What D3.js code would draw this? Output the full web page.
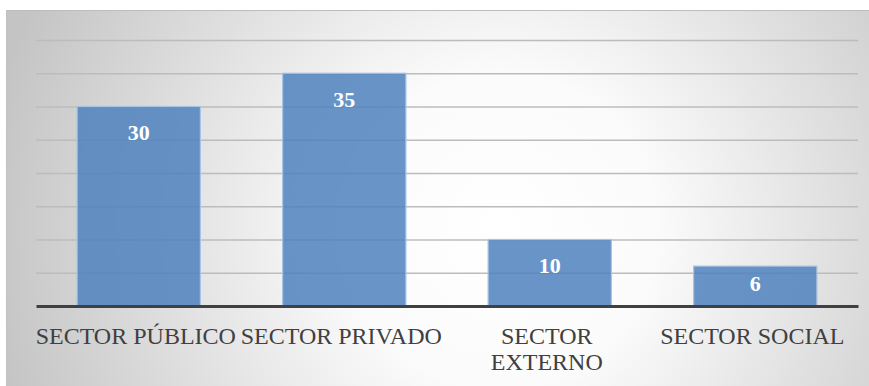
<!DOCTYPE html>
<html>
<head>
<meta charset="utf-8">
<script src="https://cdn.jsdelivr.net/npm/d3@7"></script>
<style>
  html, body { margin: 0; padding: 0; background: #fff; }
  svg { display: block; }
  .serif { font-family: "Liberation Serif", "Times New Roman", Times, "DejaVu Serif", serif; }
</style>
</head>
<body>
<svg id="chart" width="869" height="386"></svg>
<script>
// Sector categories and their counts
const categories = ["SECTOR PÚBLICO", "SECTOR PRIVADO", "SECTOR EXTERNO", "SECTOR SOCIAL"];
const categoryLines = [["SECTOR PÚBLICO"], ["SECTOR PRIVADO"], ["SECTOR", "EXTERNO"], ["SECTOR SOCIAL"]];
const values = [30, 35, 10, 6];
const gridTicks = [0, 5, 10, 15, 20, 25, 30, 35, 40];

const W = 869, H = 386;
const frame = { x: 6, y: 10 };
const plot = { left: 36, right: 858, top: 40, bottom: 306 };

const svg = d3.select("#chart");
const defs = svg.append("defs");

// Soft radial shading behind the chart
const bg = defs.append("radialGradient")
  .attr("id", "bgGrad")
  .attr("gradientUnits", "userSpaceOnUse")
  .attr("cx", 500).attr("cy", 230).attr("r", 520);
bg.append("stop").attr("offset", "0").attr("stop-color", "#ffffff");
bg.append("stop").attr("offset", "0.3").attr("stop-color", "#fbfbfb");
bg.append("stop").attr("offset", "1").attr("stop-color", "#c4c4c4");

svg.append("rect")
  .attr("x", frame.x).attr("y", frame.y)
  .attr("width", W - frame.x).attr("height", H - frame.y)
  .attr("fill", "url(#bgGrad)");

// Frame edges (top and left)
svg.append("line")
  .attr("x1", frame.x).attr("x2", W)
  .attr("y1", frame.y + 0.5).attr("y2", frame.y + 0.5)
  .attr("stroke", "#bdbdbd").attr("stroke-width", 1);
svg.append("line")
  .attr("x1", frame.x + 0.5).attr("x2", frame.x + 0.5)
  .attr("y1", frame.y).attr("y2", H)
  .attr("stroke", "#c2c2c2").attr("stroke-width", 1);

const x = d3.scaleBand()
  .domain(categories)
  .range([plot.left, plot.right])
  .paddingInner(0.4)
  .paddingOuter(0.2);

const y = d3.scaleLinear()
  .domain([0, 40])
  .range([plot.bottom, plot.top]);

// Horizontal gridlines
const yAxis = d3.axisLeft(y)
  .tickValues(gridTicks.filter(t => t > 0))
  .tickSize(-(plot.right - plot.left))
  .tickFormat("");
const gy = svg.append("g")
  .attr("transform", `translate(${plot.left},0)`)
  .call(yAxis);
gy.select(".domain").remove();
gy.selectAll(".tick line")
  .attr("stroke", "#bcbcbc")
  .attr("stroke-width", 1.5);

// Bars
svg.append("g").selectAll("rect")
  .data(values)
  .join("rect")
  .attr("x", (d, i) => x(categories[i]))
  .attr("y", d => y(d))
  .attr("width", x.bandwidth())
  .attr("height", d => y(0) - y(d))
  .attr("fill", "#4f81bd")
  .attr("fill-opacity", 0.85)
  .attr("stroke", "#a9c3e3")
  .attr("stroke-width", 1.2);

// Value labels inside the bars
svg.append("g").selectAll("text")
  .data(values)
  .join("text")
  .attr("class", "serif")
  .attr("x", (d, i) => x(categories[i]) + x.bandwidth() / 2)
  .attr("y", d => y(d) + Math.min(26, (y(0) - y(d)) * 0.43))
  .attr("text-anchor", "middle")
  .attr("dominant-baseline", "central")
  .style("font-weight", "bold")
  .style("font-size", "22px")
  .attr("fill", "#ffffff")
  .text(d => d);

// Category axis with baseline
const xAxis = d3.axisBottom(x).tickSize(0).tickFormat("");
const gx = svg.append("g")
  .attr("transform", `translate(0,${plot.bottom})`)
  .call(xAxis)
  .attr("font-family", null)
  .attr("font-size", null);
gx.select(".domain")
  .attr("stroke", "#404040")
  .attr("stroke-width", 3);

gx.selectAll(".tick").each(function(cat, i) {
  const t = d3.select(this).append("text")
    .attr("class", "serif")
    .attr("text-anchor", "middle")
    .style("font-size", "24px")
    .attr("fill", "#404040");
  categoryLines[i].forEach((line, k) => {
    t.append("tspan")
      .attr("x", -3)
      .attr("y", 38 + k * 26)
      .text(line);
  });
});
</script>
</body>
</html>
